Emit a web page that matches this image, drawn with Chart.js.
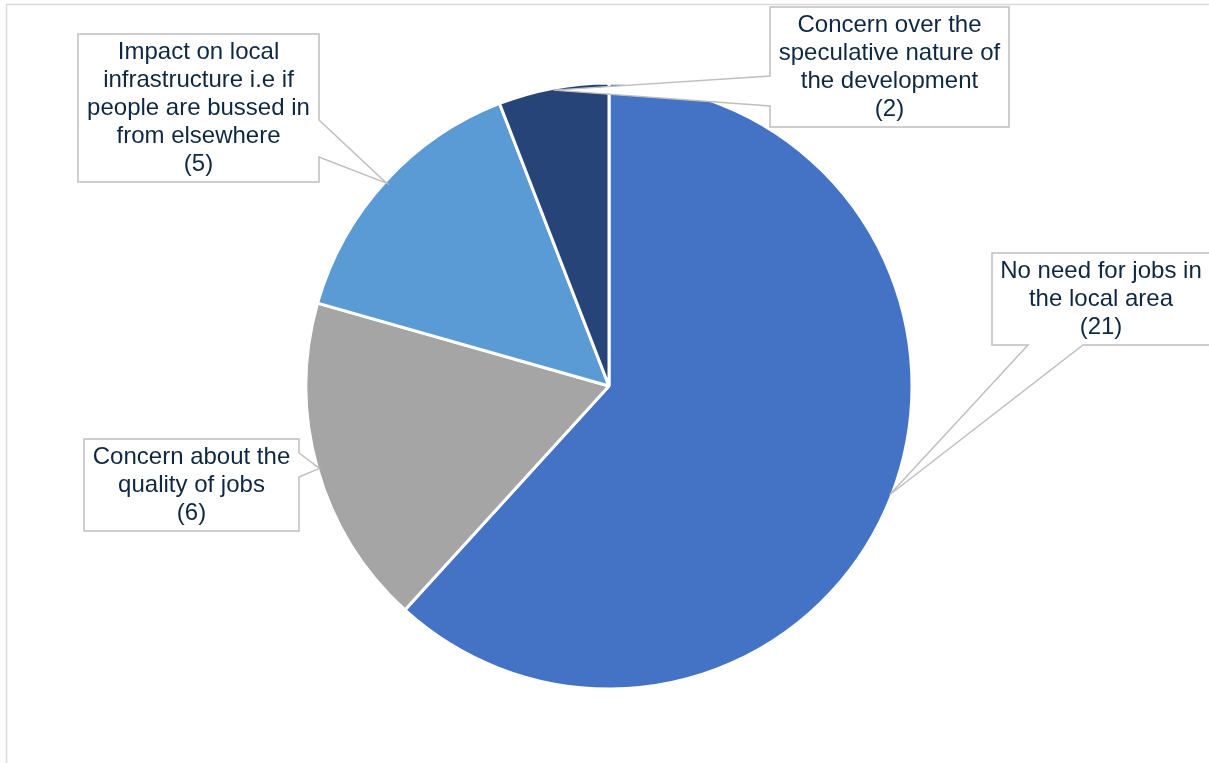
<!DOCTYPE html>
<html>
<head>
<meta charset="utf-8">
<script src="https://cdn.jsdelivr.net/npm/chart.js@4"></script>
<style>
  html, body { margin: 0; padding: 0; background: #fff; }
  #wrap { position: relative; width: 1209px; height: 763px; }
</style>
</head>
<body>
<div id="wrap"><canvas id="concernsChart"></canvas></div>
<script>
const categories = [
    'No need for jobs in the local area',
    'Concern about the quality of jobs',
    'Impact on local infrastructure i.e if people are bussed in from elsewhere',
    'Concern over the speculative nature of the development'
];
const responses = [21, 6, 5, 2];
const sliceColours = ['#4472C4', '#A5A5A5', '#5B9BD5', '#264478'];

// Callout boxes: top-left corner, width, and the edge the pointer leaves from
const callouts = [
    { x: 992, y: 253, w: 218, side: 'bottom', from: 1028, to: 1083 },
    { x: 84,  y: 439, w: 215, side: 'right',  from: 453,  to: 477 },
    { x: 78,  y: 34,  w: 241, side: 'right',  from: 120,  to: 157 },
    { x: 770, y: 7,   w: 239, side: 'left',   from: 76,   to: 106 }
];

const LABEL_FONT = '24px "Liberation Sans", Arial, sans-serif';
const LINE_H = 28;

function wrapText(ctx, text, maxWidth) {
    const lines = [];
    let line = '';
    text.split(' ').forEach(word => {
        const test = line ? line + ' ' + word : word;
        if (line && ctx.measureText(test).width > maxWidth) {
            lines.push(line);
            line = word;
        } else {
            line = test;
        }
    });
    if (line) lines.push(line);
    return lines;
}

function calloutPath(ctx, b, h, tip) {
    const right = b.x + b.w, bottom = b.y + h;
    ctx.beginPath();
    ctx.moveTo(b.x, b.y);
    ctx.lineTo(right, b.y);
    if (b.side === 'right') {
        ctx.lineTo(right, b.from);
        ctx.lineTo(tip.x, tip.y);
        ctx.lineTo(right, b.to);
    }
    ctx.lineTo(right, bottom);
    if (b.side === 'bottom') {
        ctx.lineTo(b.to, bottom);
        ctx.lineTo(tip.x, tip.y);
        ctx.lineTo(b.from, bottom);
    }
    ctx.lineTo(b.x, bottom);
    if (b.side === 'left') {
        ctx.lineTo(b.x, b.to);
        ctx.lineTo(tip.x, tip.y);
        ctx.lineTo(b.x, b.from);
    }
    ctx.closePath();
}

// thin grey frame along the top and left edges
const framePlugin = {
    id: 'frame',
    beforeDraw(chart) {
        const ctx = chart.ctx;
        ctx.save();
        ctx.strokeStyle = '#d9d9d9';
        ctx.lineWidth = 1.5;
        ctx.strokeRect(6.5, 4.5, chart.width + 20, chart.height + 20);
        ctx.restore();
    }
};

// speech-bubble labels pointing at the middle of each slice's rim
const calloutPlugin = {
    id: 'callouts',
    afterDatasetsDraw(chart) {
        const ctx = chart.ctx;
        const arcs = chart.getDatasetMeta(0).data;
        ctx.save();
        ctx.font = LABEL_FONT;
        arcs.forEach((arc, i) => {
            const b = callouts[i];
            const p = arc.getProps(['x', 'y', 'startAngle', 'endAngle', 'outerRadius'], true);
            const mid = (p.startAngle + p.endAngle) / 2;
            const tip = {
                x: p.x + Math.cos(mid) * (p.outerRadius - 2),
                y: p.y + Math.sin(mid) * (p.outerRadius - 2)
            };
            const lines = wrapText(ctx, categories[i], b.w - 12);
            lines.push('(' + responses[i] + ')');
            const h = lines.length * LINE_H + 8;

            calloutPath(ctx, b, h, tip);
            ctx.fillStyle = '#ffffff';
            ctx.fill();
            ctx.strokeStyle = '#bfbfbf';
            ctx.lineWidth = 1.5;
            ctx.lineJoin = 'miter';
            ctx.stroke();

            ctx.fillStyle = '#0E2841';
            ctx.textAlign = 'center';
            ctx.textBaseline = 'middle';
            lines.forEach((t, k) => {
                ctx.fillText(t, b.x + b.w / 2, b.y + 4 + LINE_H / 2 + k * LINE_H);
            });
        });
        ctx.restore();
    }
};

new Chart(document.getElementById('concernsChart'), {
    type: 'pie',
    data: {
        labels: categories,
        datasets: [{
            data: responses,
            backgroundColor: sliceColours,
            borderColor: '#ffffff',
            borderWidth: 3
        }]
    },
    options: {
        responsive: true,
        maintainAspectRatio: false,
        animation: false,
        radius: 303,
        layout: { padding: { left: 9, top: 9 } },
        plugins: {
            legend: { display: false },
            tooltip: { enabled: false }
        }
    },
    plugins: [framePlugin, calloutPlugin]
});
</script>
</body>
</html>
